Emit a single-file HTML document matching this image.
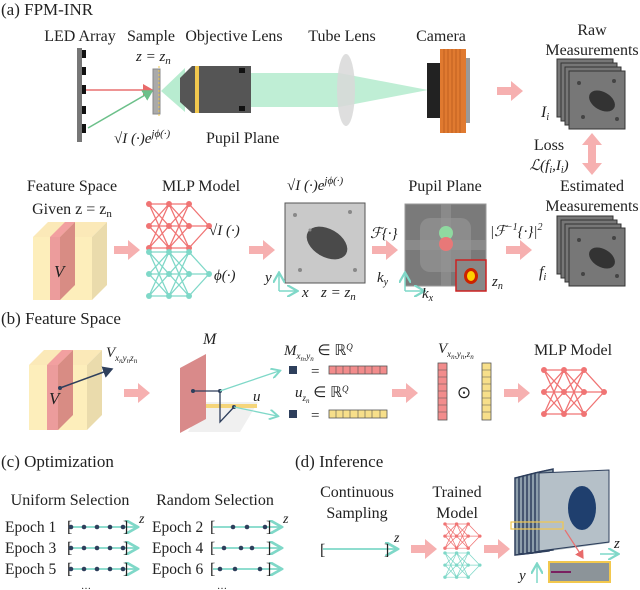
<!DOCTYPE html>
<html><head><meta charset="utf-8"><style>
html,body{margin:0;padding:0;background:#fff;}
svg{display:block;font-family:"Liberation Serif",serif;}
text{fill:#222;}
</style></head><body>
<svg width="640" height="590" viewBox="0 0 640 590" xmlns="http://www.w3.org/2000/svg">
<defs>
<g id="net">
 <g stroke="currentColor" stroke-width="1.3" fill="none">
  <path d="M0 0L20 0M0 0L20 22M0 0L20 44M0 22L20 0M0 22L20 22M0 22L20 44M0 44L20 0M0 44L20 22M0 44L20 44"/>
  <path d="M20 0L40 0M20 0L40 22M20 0L40 44M20 22L40 0M20 22L40 22M20 22L40 44M20 44L40 0M20 44L40 22M20 44L40 44"/>
  <path d="M40 0L60 22M40 22L60 22M40 44L60 22"/>
 </g>
 <g fill="currentColor">
  <circle cx="0" cy="0" r="3"/><circle cx="0" cy="22" r="3"/><circle cx="0" cy="44" r="3"/>
  <circle cx="20" cy="0" r="3"/><circle cx="20" cy="22" r="3"/><circle cx="20" cy="44" r="3"/>
  <circle cx="40" cy="0" r="3"/><circle cx="40" cy="22" r="3"/><circle cx="40" cy="44" r="3"/>
  <circle cx="60" cy="22" r="3"/>
 </g>
</g>
<g id="img1">
 <rect x="0" y="0" width="56" height="58" fill="#777" stroke="#333" stroke-width="1"/>
 <ellipse cx="33" cy="30" rx="14" ry="9" fill="#333" transform="rotate(30 33 30)"/>
 <circle cx="10" cy="12" r="2" fill="#444"/><circle cx="45" cy="10" r="2" fill="#444"/><circle cx="14" cy="46" r="2" fill="#444"/><circle cx="48" cy="48" r="2" fill="#444"/>
</g>
<g id="stack">
 <use href="#img1" x="0" y="0"/><use href="#img1" x="4" y="4"/><use href="#img1" x="8" y="8"/><use href="#img1" x="12" y="12"/>
</g>
<g id="parr"><polygon points="0,-4 14,-4 14,-10 26,0 14,10 14,4 0,4" fill="#f6b0b0"/></g>
<marker id="tah" markerWidth="8" markerHeight="8" refX="6" refY="4" orient="auto"><path d="M0,0L7,4L0,8" fill="none" stroke="#7fd8c8" stroke-width="1.5"/></marker>
<marker id="rah" markerWidth="8" markerHeight="8" refX="6" refY="4" orient="auto"><path d="M0,0L7,4L0,8Z" fill="#e86a6a"/></marker>
<marker id="gah" markerWidth="8" markerHeight="8" refX="6" refY="4" orient="auto"><path d="M0,0L7,4L0,8Z" fill="#6cc08a"/></marker>
<marker id="dah" markerWidth="8" markerHeight="8" refX="6" refY="4" orient="auto"><path d="M0,0L7,4L0,8Z" fill="#2e3f5c"/></marker>
</defs>

<!-- (a) -->
<text x="1" y="15" font-size="17">(a)  FPM-INR</text>
<g font-size="16" text-anchor="middle">
<text x="80" y="41">LED Array</text><text x="151" y="41">Sample</text><text x="234" y="41">Objective Lens</text>
<text x="342" y="41">Tube Lens</text><text x="441" y="41">Camera</text>
<text x="592" y="35">Raw</text><text x="592" y="55">Measurements</text>
</g>
<text x="136" y="61" font-size="15" font-style="italic">z = z<tspan font-size="11" dy="3">n</tspan></text>
<rect x="77" y="48" width="5" height="94" fill="#777"/>
<g fill="#111"><rect x="82" y="50" width="4" height="8"/><rect x="82" y="67" width="4" height="8"/><rect x="82" y="85" width="4" height="9"/><rect x="82" y="106" width="4" height="8"/><rect x="82" y="124" width="4" height="9"/></g>
<line x1="86" y1="90" x2="152" y2="90" stroke="#e87070" stroke-width="1.5" marker-end="url(#rah)"/>
<line x1="88" y1="128" x2="152" y2="91" stroke="#6cc08a" stroke-width="1.5" marker-end="url(#gah)"/>
<polygon points="161,91 185,68 185,112" fill="#b8ecd0"/>
<rect x="153" y="69" width="7" height="45" fill="#aaa" stroke="#888"/>
<line x1="159" y1="66" x2="159" y2="118" stroke="#f2c84e" stroke-dasharray="2,2"/>
<polygon points="251,73 339,73 428,90 339,107 251,107" fill="#b8ecd0" opacity="0.9"/>
<polygon points="180,78 192,66 251,66 251,113 192,113 180,102" fill="#555"/>
<rect x="195" y="66" width="4" height="47" fill="#f2c84e"/>
<rect x="239" y="68" width="6" height="5" fill="#111"/><rect x="239" y="106" width="6" height="5" fill="#111"/>
<ellipse cx="346" cy="90" rx="9" ry="36" fill="#d8d8d8" opacity="0.85"/>
<rect x="427" y="63" width="13" height="55" fill="#222"/>
<rect x="440" y="49" width="26" height="84" fill="#e07a30"/>
<g stroke="#b85a1c" stroke-width="0.8"><line x1="444" y1="49" x2="444" y2="133"/><line x1="448" y1="49" x2="448" y2="133"/><line x1="452" y1="49" x2="452" y2="133"/><line x1="456" y1="49" x2="456" y2="133"/><line x1="460" y1="49" x2="460" y2="133"/></g>
<rect x="466" y="58" width="4" height="65" fill="#999"/>
<text x="114" y="143" font-size="15" font-style="italic">√I (·)e<tspan font-size="11" dy="-6">jϕ(·)</tspan></text>
<text x="206" y="143" font-size="16">Pupil Plane</text>
<use href="#parr" x="497" y="91"/>
<use href="#stack" x="557" y="59"/>
<text x="541" y="117" font-size="16" font-style="italic">I<tspan font-size="10" dy="3">i</tspan></text>
<text x="549" y="150" font-size="16" text-anchor="middle">Loss</text>
<text x="549" y="170" font-size="15" text-anchor="middle" font-style="italic">ℒ(f<tspan font-size="10" dy="3">i</tspan><tspan dy="-3">,I</tspan><tspan font-size="10" dy="3">i</tspan><tspan dy="-3">)</tspan></text>
<polygon points="592,133 602,145 596,145 596,163 602,163 592,175 582,163 588,163 588,145 582,145" fill="#f6b0b0"/>

<g font-size="16" text-anchor="middle">
<text x="72" y="191">Feature Space</text><text x="72" y="214">Given z = z<tspan font-size="11" dy="3">n</tspan></text>
<text x="201" y="191">MLP Model</text><text x="445" y="191">Pupil Plane</text>
<text x="592" y="191">Estimated</text><text x="592" y="211">Measurements</text>
</g>
<polygon points="33,237 48,222 107,222 92,237" fill="#fbe9b8"/>
<rect x="33" y="237" width="59" height="63" fill="#fdeebb"/>
<polygon points="92,237 107,222 107,285 92,300" fill="#eadbac"/>
<polygon points="50,237 65,222 75,222 60,237" fill="#f2a0a0"/>
<rect x="50" y="237" width="10" height="63" fill="#ec9c9c"/>
<polygon points="60,237 75,222 75,285 60,300" fill="#d88c84"/>
<text x="54" y="277" font-size="17" font-style="italic">V</text>
<use href="#parr" x="114" y="250"/>
<use href="#net" x="149" y="204" color="#f07474"/>
<use href="#net" x="149" y="252" color="#7fd8c8"/>
<text x="209" y="235" font-size="15" font-style="italic">√I (·)</text>
<text x="214" y="280" font-size="15" font-style="italic">ϕ(·)</text>
<use href="#parr" x="249" y="250"/>
<text x="287" y="190" font-size="15" font-style="italic">√I (·)e<tspan font-size="11" dy="-6">jϕ(·)</tspan></text>
<rect x="285" y="203" width="80" height="80" fill="#c9c9c9" stroke="#555"/>
<ellipse cx="327" cy="243" rx="22" ry="14" fill="#4a4a4a" transform="rotate(30 327 243)"/>
<g fill="#888"><circle cx="295" cy="215" r="2"/><circle cx="350" cy="212" r="2"/><circle cx="300" cy="270" r="2"/><circle cx="355" cy="270" r="2"/><circle cx="310" cy="230" r="1.5"/></g>
<line x1="279" y1="291" x2="296" y2="291" stroke="#7fd8c8" stroke-width="1.5" marker-end="url(#tah)"/>
<line x1="279" y1="291" x2="279" y2="274" stroke="#7fd8c8" stroke-width="1.5" marker-end="url(#tah)"/>
<text x="265" y="282" font-size="15" font-style="italic">y</text>
<text x="302" y="297" font-size="15" font-style="italic">x</text>
<text x="321" y="297" font-size="15" font-style="italic">z = z<tspan font-size="11" dy="3">n</tspan></text>
<text x="370" y="238" font-size="15" font-style="italic">ℱ{·}</text>
<use href="#parr" x="372" y="250"/>
<rect x="405" y="204" width="81" height="82" fill="#7a7a7a" stroke="#999"/>
<rect x="420" y="218" width="51" height="54" rx="10" fill="#8c8c8c"/>
<rect x="441" y="204" width="10" height="82" fill="#959595" opacity="0.6"/>
<rect x="405" y="240" width="81" height="10" fill="#959595" opacity="0.6"/>
<circle cx="446" cy="233" r="7" fill="#8fd9a0"/>
<circle cx="446" cy="244" r="7" fill="#e87878"/>
<rect x="456" y="260" width="30" height="31" fill="#888" stroke="#cc2222" stroke-width="1.5"/>
<ellipse cx="471" cy="276" rx="7" ry="8" fill="#cc2200"/><ellipse cx="471" cy="276" rx="4" ry="5" fill="#ffd000"/>
<line x1="405" y1="291" x2="405" y2="274" stroke="#7fd8c8" stroke-width="1.5" marker-end="url(#tah)"/>
<line x1="405" y1="291" x2="423" y2="291" stroke="#7fd8c8" stroke-width="1.5" marker-end="url(#tah)"/>
<text x="377" y="282" font-size="15" font-style="italic">k<tspan font-size="10" dy="3">y</tspan></text>
<text x="422" y="298" font-size="15" font-style="italic">k<tspan font-size="10" dy="3">x</tspan></text>
<text x="492" y="286" font-size="15" font-style="italic">z<tspan font-size="10" dy="3">n</tspan></text>
<text x="490" y="236" font-size="15" font-style="italic">|ℱ<tspan font-size="10" dy="-6">−1</tspan><tspan dy="6">{·}|</tspan><tspan font-size="10" dy="-6">2</tspan></text>
<use href="#parr" x="506" y="250"/>
<use href="#stack" x="557" y="216"/>
<text x="539" y="277" font-size="16" font-style="italic">f<tspan font-size="10" dy="3">i</tspan></text>

<!-- (b) -->
<text x="1" y="324" font-size="17">(b)  Feature Space</text>
<polygon points="29,365 44,350 102,350 87,365" fill="#fbe9b8"/>
<rect x="29" y="365" width="58" height="65" fill="#fdeebb"/>
<polygon points="87,365 102,350 102,415 87,430" fill="#eadbac"/>
<polygon points="47,365 62,350 73,350 58,365" fill="#f2a0a0"/>
<rect x="47" y="365" width="11" height="65" fill="#ec9c9c"/>
<polygon points="58,365 73,350 73,415 58,430" fill="#d88c84"/>
<line x1="60" y1="388" x2="112" y2="369" stroke="#2e3f5c" stroke-width="1.5" marker-end="url(#dah)"/>
<circle cx="60" cy="388" r="2" fill="#2e3f5c"/>
<text x="49" y="404" font-size="17" font-style="italic">V</text>
<text x="106" y="357" font-size="15" font-style="italic">V<tspan font-size="9" dy="4">x</tspan><tspan font-size="7" dy="2">n</tspan><tspan font-size="9" dy="-2">y</tspan><tspan font-size="7" dy="2">n</tspan><tspan font-size="9" dy="-2">z</tspan><tspan font-size="7" dy="2">n</tspan></text>
<use href="#parr" x="124" y="393"/>
<text x="203" y="344" font-size="16" font-style="italic">M</text>
<polygon points="206,402 258,402 240,432 188,432" fill="#f0f0f0"/>
<polygon points="180,368 206,354 206,419 180,433" fill="#d98a8a"/>
<rect x="206" y="404" width="51" height="4" fill="#f5d57a"/>
<path d="M193 391 L220 391 L220 422 L234 407" stroke="#2e3f5c" stroke-width="1.3" fill="none"/>
<circle cx="193" cy="391" r="2" fill="#2e3f5c"/><circle cx="220" cy="391" r="2" fill="#2e3f5c"/><circle cx="234" cy="407" r="2" fill="#2e3f5c"/>
<line x1="220" y1="391" x2="279" y2="371" stroke="#7fd8c8" stroke-width="1.3" marker-end="url(#tah)"/>
<line x1="234" y1="407" x2="277" y2="416" stroke="#7fd8c8" stroke-width="1.3" marker-end="url(#tah)"/>
<text x="253" y="401" font-size="15" font-style="italic">u</text>
<text x="284" y="355" font-size="15" font-style="italic">M<tspan font-size="9" dy="4">x</tspan><tspan font-size="7" dy="2">n</tspan><tspan font-size="9" dy="-2">,y</tspan><tspan font-size="7" dy="2">n</tspan><tspan dy="-6" font-style="normal"> ∈ ℝ</tspan><tspan font-size="9" dy="-5">Q</tspan></text>
<text x="295" y="397" font-size="15" font-style="italic">u<tspan font-size="9" dy="4">z</tspan><tspan font-size="7" dy="2">n</tspan><tspan dy="-6" font-style="normal"> ∈ ℝ</tspan><tspan font-size="9" dy="-5">Q</tspan></text>
<rect x="289" y="366" width="8" height="8" fill="#2e3f5c"/><rect x="289" y="410" width="8" height="8" fill="#2e3f5c"/>
<text x="311" y="376" font-size="15">=</text><text x="311" y="420" font-size="15">=</text>
<rect x="329" y="366" width="58" height="8" fill="#f28c8c" stroke="#555" stroke-width="0.8"/>
<rect x="329" y="410" width="58" height="8" fill="#f7df8a" stroke="#555" stroke-width="0.8"/>
<g stroke="#555" stroke-width="0.6"><path d="M336 366v8M343 366v8M350 366v8M358 366v8M365 366v8M372 366v8M380 366v8M336 410v8M343 410v8M350 410v8M358 410v8M365 410v8M372 410v8M380 410v8"/></g>
<use href="#parr" x="392" y="393"/>
<text x="438" y="353" font-size="15" font-style="italic">V<tspan font-size="9" dy="4">x</tspan><tspan font-size="7" dy="2">n</tspan><tspan font-size="9" dy="-2">,y</tspan><tspan font-size="7" dy="2">n</tspan><tspan font-size="9" dy="-2">,z</tspan><tspan font-size="7" dy="2">n</tspan></text>
<rect x="438" y="363" width="9" height="57" fill="#f28c8c" stroke="#555" stroke-width="0.8"/>
<rect x="482" y="363" width="9" height="57" fill="#f7df8a" stroke="#555" stroke-width="0.8"/>
<g stroke="#555" stroke-width="0.6"><path d="M438 370h9M438 377h9M438 384h9M438 391h9M438 398h9M438 405h9M438 412h9M482 370h9M482 377h9M482 384h9M482 391h9M482 398h9M482 405h9M482 412h9"/></g>
<text x="464" y="398" font-size="17" text-anchor="middle">⊙</text>
<use href="#parr" x="504" y="393"/>
<text x="573" y="355" font-size="16" text-anchor="middle">MLP Model</text>
<use href="#net" x="544" y="370" color="#f07474"/>

<!-- (c) -->
<text x="1" y="467" font-size="17">(c)  Optimization</text>
<g font-size="16" text-anchor="middle"><text x="70" y="505">Uniform Selection</text><text x="215" y="505">Random Selection</text></g>
<g font-size="15.5">
<text x="5" y="532">Epoch 1</text><text x="5" y="553">Epoch 3</text><text x="5" y="574">Epoch 5</text>
<text x="152" y="532">Epoch 2</text><text x="152" y="553">Epoch 4</text><text x="152" y="574">Epoch 6</text>
</g>
<g stroke="#7fd8c8" stroke-width="1.8" marker-end="url(#tah)">
<line x1="70" y1="527" x2="136" y2="527"/><line x1="70" y1="548" x2="136" y2="548"/><line x1="70" y1="569" x2="136" y2="569"/>
<line x1="213" y1="527" x2="280" y2="527"/><line x1="213" y1="548" x2="280" y2="548"/><line x1="213" y1="569" x2="280" y2="569"/>
</g>
<g font-size="16" fill="#222">
<text x="67" y="532">[</text><text x="123" y="532">]</text><text x="67" y="553">[</text><text x="123" y="553">]</text><text x="67" y="574">[</text><text x="123" y="574">]</text>
<text x="210" y="532">[</text><text x="266" y="532">]</text><text x="210" y="553">[</text><text x="266" y="553">]</text><text x="210" y="574">[</text><text x="266" y="574">]</text>
</g>
<g fill="#2e3f5c">
<circle cx="71" cy="527" r="2.3"/><circle cx="84" cy="527" r="2.3"/><circle cx="97" cy="527" r="2.3"/><circle cx="110" cy="527" r="2.3"/><circle cx="123" cy="527" r="2.3"/>
<circle cx="71" cy="548" r="2.3"/><circle cx="84" cy="548" r="2.3"/><circle cx="97" cy="548" r="2.3"/><circle cx="110" cy="548" r="2.3"/><circle cx="123" cy="548" r="2.3"/>
<circle cx="71" cy="569" r="2.3"/><circle cx="84" cy="569" r="2.3"/><circle cx="97" cy="569" r="2.3"/><circle cx="110" cy="569" r="2.3"/><circle cx="123" cy="569" r="2.3"/>
<circle cx="233" cy="527" r="2.3"/><circle cx="247" cy="527" r="2.3"/><circle cx="265" cy="527" r="2.3"/>
<circle cx="224" cy="548" r="2.3"/><circle cx="241" cy="548" r="2.3"/><circle cx="252" cy="548" r="2.3"/>
<circle cx="220" cy="569" r="2.3"/><circle cx="235" cy="569" r="2.3"/><circle cx="260" cy="569" r="2.3"/>
</g>
<text x="139" y="523" font-size="14" font-style="italic">z</text><text x="283" y="523" font-size="14" font-style="italic">z</text>
<text x="86" y="589" font-size="10" text-anchor="middle">…</text><text x="222" y="589" font-size="10" text-anchor="middle">…</text>

<!-- (d) -->
<text x="295" y="467" font-size="17">(d)  Inference</text>
<g font-size="16" text-anchor="middle"><text x="357" y="497">Continuous</text><text x="357" y="518">Sampling</text><text x="457" y="497">Trained</text><text x="457" y="518">Model</text></g>
<line x1="323" y1="549" x2="396" y2="549" stroke="#7fd8c8" stroke-width="1.8" marker-end="url(#tah)"/>
<text x="320" y="555" font-size="16">[</text><text x="384" y="555" font-size="16">]</text>
<text x="394" y="542" font-size="14" font-style="italic">z</text>
<use href="#parr" x="411" y="549"/>
<g transform="translate(445 524) scale(0.58 0.55)"><use href="#net" color="#f07474"/></g>
<g transform="translate(445 553) scale(0.58 0.55)"><use href="#net" color="#7fd8c8"/></g>
<use href="#parr" x="484" y="549"/>
<polygon points="535,474 609,472 609,543 535,553" fill="#a8b4bc"/>
<g fill="#8d9eab" stroke="#2e3f5c" stroke-width="1.5">
<polygon points="515,478 533,474 533,553 515,555"/><polygon points="519,477 537,473 537,552 519,554"/>
<polygon points="523,476 541,472 541,552 523,554"/><polygon points="527,475 545,471 545,551 527,553"/>
<polygon points="531,474 549,470 549,551 531,553"/><polygon points="535,473 553,469 553,550 535,552"/>
</g>
<polygon points="539,473 609,470 609,542 539,551" fill="#b5c0c8" stroke="#2e3f5c" stroke-width="1"/>
<ellipse cx="582" cy="508" rx="14" ry="22" fill="#1f3f6e"/>
<rect x="511" y="522" width="52" height="7" fill="none" stroke="#f2c84e" stroke-width="1.2"/>
<line x1="565" y1="530" x2="583" y2="558" stroke="#e87070" stroke-width="1.2" marker-end="url(#rah)"/>
<rect x="549" y="562" width="61" height="20" fill="#8c9499" stroke="#f2c84e" stroke-width="2"/>
<rect x="551" y="571" width="20" height="2" fill="#7a2060"/>
<line x1="600" y1="554" x2="617" y2="554" stroke="#7fd8c8" stroke-width="1.5" marker-end="url(#tah)"/>
<text x="614" y="548" font-size="15" font-style="italic">z</text>
<line x1="537" y1="583" x2="537" y2="565" stroke="#7fd8c8" stroke-width="1.5" marker-end="url(#tah)"/>
<text x="519" y="580" font-size="15" font-style="italic">y</text>
</svg>
</body></html>
